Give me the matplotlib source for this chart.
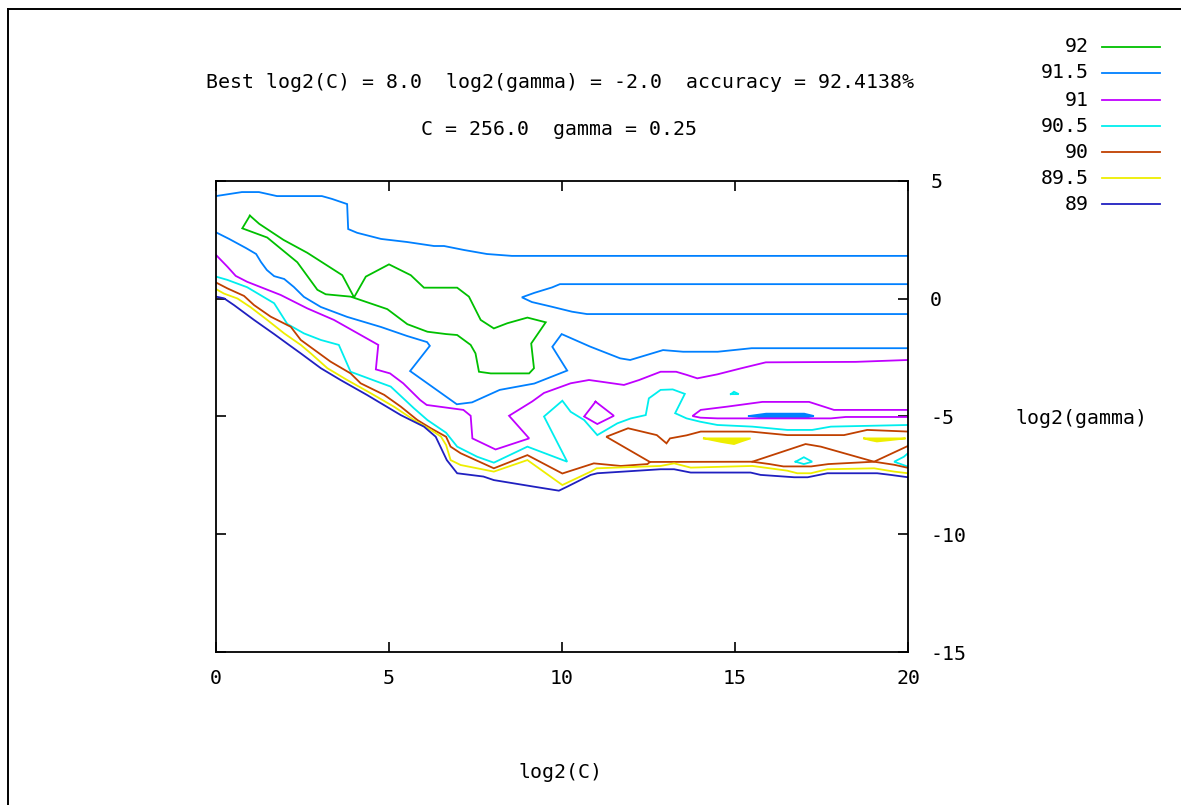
import matplotlib
matplotlib.use("Agg")
import matplotlib.pyplot as plt
from matplotlib.lines import Line2D
import numpy as np

plt.rcParams['font.family'] = ['DejaVu Sans Mono']
plt.rcParams['axes.unicode_minus'] = False
FS = 14.3

W, H = 1181, 805

levels = ['92', '91.5', '91', '90.5', '90', '89.5', '89']
colors = ['#00c000', '#0080ff', '#c000ff', '#00eeee', '#c04000', '#eeee00', '#2020c0']

# contour lines, (log2C, log2gamma)
c92_loop = [(0.98, 3.53), (1.25, 3.18), (1.95, 2.5), (2.64, 1.95), (3.65, 1.0), (3.99, 0.06),
            (4.33, 0.94), (5.0, 1.46), (5.63, 1.0), (6.01, 0.47), (6.97, 0.47), (7.31, 0.09),
            (7.65, -0.9), (8.03, -1.26), (8.42, -1.04), (9.0, -0.8), (9.53, -1.0), (9.11, -1.9),
            (9.19, -2.95), (9.05, -3.17), (7.94, -3.17), (7.6, -3.1), (7.5, -2.32), (7.36, -1.96),
            (6.97, -1.54), (6.65, -1.5), (6.11, -1.4), (5.53, -1.08), (4.95, -0.44), (3.89, 0.09),
            (3.17, 0.19), (2.93, 0.38), (2.35, 1.55), (1.48, 2.6), (0.76, 2.99), (0.98, 3.53)]

c915_top = [(0, 4.36), (0.75, 4.53), (1.24, 4.53), (1.76, 4.36), (3.06, 4.36), (3.35, 4.24),
            (3.79, 4.02), (3.82, 2.96), (4.08, 2.8), (4.77, 2.54), (5.52, 2.41), (6.3, 2.24),
            (6.59, 2.24), (7.17, 2.07), (7.83, 1.9), (8.55, 1.82), (20, 1.82)]
c915_tongue = [(20, 0.62), (9.94, 0.62), (9.71, 0.48), (9.2, 0.25), (8.84, 0.06), (9.13, -0.14),
               (9.68, -0.33), (10.29, -0.55), (10.72, -0.65), (20, -0.65)]
c915_left = [(0, 2.82), (0.38, 2.54), (0.87, 2.15), (1.16, 1.9), (1.3, 1.56), (1.47, 1.22),
             (1.68, 0.96), (1.97, 0.84), (2.25, 0.5), (2.54, 0.08), (3.03, -0.35), (3.79, -0.77),
             (4.77, -1.2), (5.52, -1.58), (6.1, -1.84), (6.18, -2.0), (5.61, -3.07), (6.96, -4.48),
             (7.4, -4.4), (8.2, -3.87), (9.2, -3.6), (10.15, -3.05), (9.72, -2.04), (9.99, -1.5),
             (10.81, -2.03), (11.68, -2.53), (11.97, -2.6), (12.92, -2.18), (13.5, -2.25),
             (14.5, -2.25), (15.48, -2.1), (20, -2.1)]
c915_lens = [(15.4, -4.98), (15.9, -4.88), (17.0, -4.88), (17.28, -4.98), (17.0, -5.06),
             (15.9, -5.06), (15.4, -4.98)]

c91_left = [(0, 1.86), (0.33, 1.36), (0.57, 0.97), (0.9, 0.72), (1.87, 0.16), (2.64, -0.41),
            (3.41, -0.9), (4.69, -1.96), (4.62, -3.0), (5.03, -3.17), (5.41, -3.59), (5.9, -4.3),
            (6.09, -4.51), (7.15, -4.72), (7.36, -4.97), (7.41, -5.93), (8.08, -6.4), (9.05, -5.93),
            (8.47, -4.97), (9.14, -4.36), (9.48, -4.0), (10.25, -3.59), (10.78, -3.45),
            (11.12, -3.52), (11.79, -3.66), (12.23, -3.45), (12.85, -3.1), (13.3, -3.1),
            (13.62, -3.24), (13.91, -3.38), (14.49, -3.21), (15.16, -2.96), (15.89, -2.7),
            (18.49, -2.68), (20, -2.6)]
c91_diamond = [(10.97, -4.37), (11.5, -4.97), (11.02, -5.32), (10.64, -5.0), (10.97, -4.37)]
c91_loop = [(20, -4.72), (17.86, -4.72), (17.14, -4.38), (15.79, -4.38), (14.78, -4.58),
            (14.01, -4.72), (13.77, -4.98), (14.0, -5.05), (14.49, -5.08), (17.77, -5.08),
            (18.2, -5.02), (20, -5.02)]

c905_left = [(0, 0.94), (0.33, 0.8), (0.9, 0.49), (1.68, -0.19), (2.06, -1.07), (2.54, -1.47),
             (3.03, -1.75), (3.55, -1.96), (3.89, -3.1), (4.66, -3.52), (5.05, -3.73),
             (5.72, -4.65), (6.11, -5.15), (6.65, -5.69), (6.97, -6.28), (7.55, -6.71),
             (8.03, -6.96), (9.0, -6.28), (10.15, -6.92), (9.48, -5.0), (10.01, -4.33),
             (10.25, -4.8), (10.64, -5.15), (11.02, -5.79), (11.6, -5.29), (11.99, -5.08),
             (12.42, -4.94), (12.51, -4.23), (12.85, -3.87), (13.2, -3.85), (13.55, -4.04),
             (13.27, -4.86), (13.6, -5.08), (13.99, -5.22), (14.49, -5.36), (15.5, -5.43),
             (16.51, -5.57), (17.23, -5.57), (17.77, -5.43), (20, -5.36)]
c905_dot = [(14.88, -4.05), (14.97, -3.95), (15.11, -4.05), (14.88, -4.05)]
c905_lens = [(16.75, -6.92), (16.99, -6.73), (17.23, -6.92), (16.99, -7.02), (16.75, -6.92)]
c905_edge = [(20, -6.56), (19.88, -6.71), (19.6, -6.92), (19.79, -7.02), (20, -7.13)]

c90_left = [(0, 0.69), (0.33, 0.44), (0.81, 0.12), (1.1, -0.27), (1.58, -0.76), (2.16, -1.19),
            (2.45, -1.75), (3.31, -2.67), (3.89, -3.17), (4.18, -3.59), (4.86, -4.08),
            (5.34, -4.58), (5.82, -5.15), (6.21, -5.5), (6.65, -5.86), (6.78, -6.28),
            (7.07, -6.56), (8.03, -7.2), (9.0, -6.64), (10.01, -7.42), (10.92, -6.99),
            (11.7, -7.1), (12.47, -7.02), (12.54, -6.93), (15.5, -6.92), (16.0, -7.02),
            (16.4, -7.12), (17.2, -7.12), (17.7, -7.02), (19.02, -6.92), (19.6, -7.05), (20, -7.18)]
c90_upper = [(20, -5.64), (18.82, -5.57), (18.15, -5.79), (16.51, -5.79), (15.45, -5.64),
             (14.01, -5.64), (13.6, -5.8), (13.12, -5.93), (13.02, -6.14), (12.74, -5.79),
             (11.91, -5.5), (11.28, -5.86), (12.54, -6.93)]
c90_x = [(15.5, -6.92), (17.04, -6.17), (17.48, -6.28), (19.02, -6.92), (20, -6.25)]

c895_left = [(0, 0.41), (0.23, 0.22), (0.62, 0.01), (1.0, -0.36), (1.48, -0.9), (1.97, -1.47),
             (2.45, -1.96), (2.74, -2.32), (3.22, -2.95), (3.79, -3.45), (4.47, -4.01),
             (5.14, -4.58), (5.72, -5.15), (6.21, -5.57), (6.5, -5.85), (6.65, -6.21),
             (6.78, -6.85), (7.07, -7.06), (8.03, -7.34), (9.0, -6.85), (10.01, -7.91),
             (10.83, -7.34), (11.0, -7.2), (12.85, -7.1), (13.24, -6.99), (13.72, -7.17),
             (15.5, -7.1), (16.51, -7.3), (16.8, -7.41), (17.19, -7.41), (17.67, -7.24),
             (19.02, -7.2), (19.6, -7.34), (20, -7.41)]
c895_lens1 = [(14.1, -5.93), (15.45, -5.93), (15.2, -6.05), (14.97, -6.17), (14.6, -6.08), (14.1, -5.93)]
c895_lens2 = [(18.73, -5.93), (19.93, -5.93), (19.5, -6.0), (19.1, -6.06), (18.9, -6.0), (18.73, -5.93)]

c89_left = [(0, 0.09), (0.23, 0.02), (0.52, -0.27), (1.1, -0.9), (1.68, -1.5), (2.11, -1.96),
            (2.45, -2.32), (3.03, -2.95), (3.6, -3.45), (4.37, -4.09), (5.34, -4.94),
            (6.01, -5.43), (6.35, -5.86), (6.67, -6.85), (6.97, -7.41), (7.73, -7.55),
            (8.03, -7.7), (9.19, -7.98), (9.91, -8.15), (10.15, -7.98), (10.83, -7.48),
            (11.02, -7.41), (12.85, -7.24), (13.24, -7.24), (13.72, -7.38), (15.45, -7.38),
            (15.74, -7.48), (16.71, -7.58), (17.1, -7.58), (17.67, -7.41), (19.11, -7.41),
            (19.5, -7.48), (20, -7.58)]

lines_by_level = [
    [c92_loop],
    [c915_top, c915_tongue, c915_left, c915_lens],
    [c91_left, c91_diamond, c91_loop],
    [c905_left, c905_dot, c905_lens, c905_edge],
    [c90_left, c90_upper, c90_x],
    [c895_left, c895_lens1, c895_lens2],
    [c89_left],
]
filled = [c915_lens, c895_lens1, c895_lens2]

fig = plt.figure(figsize=(W / 100, H / 100), dpi=100)
ax = fig.add_axes([216 / W, 1 - 652 / H, (908 - 216) / W, (652 - 181) / H])

for segs, col in zip(lines_by_level, colors):
    for s in segs:
        p = np.array(s)
        ax.plot(p[:, 0], p[:, 1], color=col, lw=1.3, solid_joinstyle='miter')
        if any(s is f for f in filled):
            ax.fill(p[:, 0], p[:, 1], color=col, lw=0)

ax.set_xlim(0, 20)
ax.set_ylim(-15, 5)
ax.set_xticks([0, 5, 10, 15, 20])
ax.set_yticks([5, 0, -5, -10, -15])
ax.tick_params(axis='x', direction='in', length=7, width=1.2, top=True, bottom=True,
               labelsize=FS, pad=12)
ax.tick_params(axis='y', direction='in', length=7, width=1.2, left=True, right=True,
               labelleft=False, labelright=True, labelsize=FS, pad=16)
for sp in ax.spines.values():
    sp.set_linewidth(1.3)

fig.text(560 / W, 1 - 82 / H, 'Best log2(C) = 8.0  log2(gamma) = -2.0  accuracy = 92.4138%',
         ha='center', va='center', fontsize=FS)
fig.text(559 / W, 1 - 129 / H, 'C = 256.0  gamma = 0.25', ha='center', va='center', fontsize=FS)
fig.text(560 / W, 1 - 772 / H, 'log2(C)', ha='center', va='center', fontsize=FS)
fig.text(1081 / W, 1 - 418 / H, 'log2(gamma)', ha='center', va='center', fontsize=FS)

# key
key_y = [47, 73, 100, 126, 152, 178, 204]
for lab, col, yy in zip(levels, colors, key_y):
    fig.text(1089 / W, 1 - yy / H, lab, ha='right', va='center', fontsize=FS)
    fig.add_artist(Line2D([1102 / W, 1160 / W], [1 - yy / H, 1 - yy / H], color=col, lw=1.3))

# outer frame
fig.add_artist(Line2D([7.5 / W, 7.5 / W], [0, 1 - 9 / H], color='black', lw=1.4))
fig.add_artist(Line2D([7.5 / W, 1], [1 - 9 / H, 1 - 9 / H], color='black', lw=1.4))

fig.savefig('out.png', dpi=100)
